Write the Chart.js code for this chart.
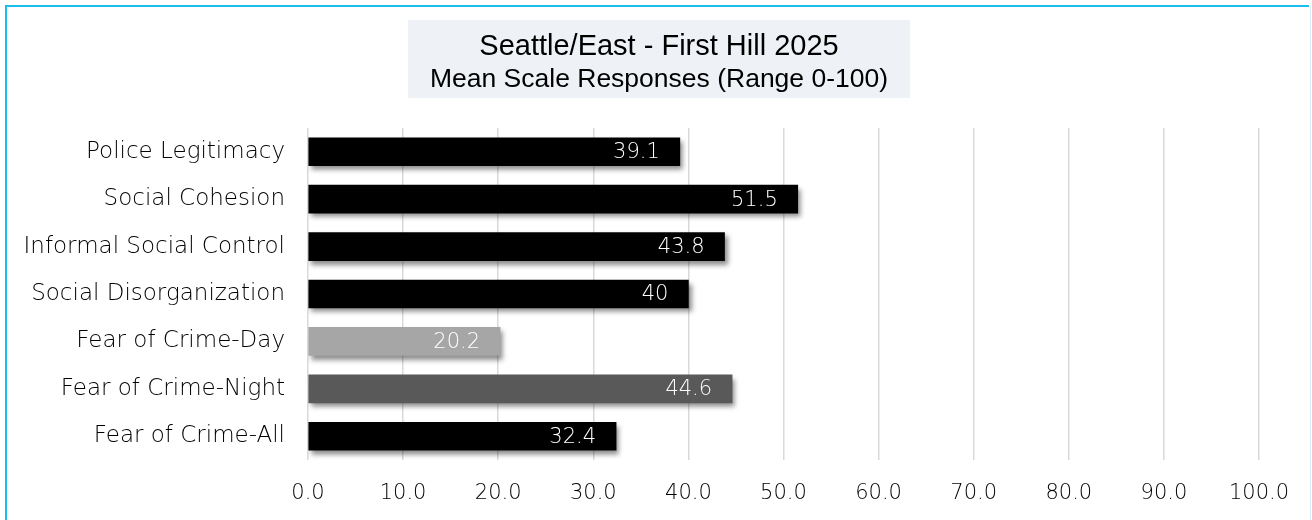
<!DOCTYPE html>
<html>
<head>
<meta charset="utf-8">
<script src="https://cdn.jsdelivr.net/npm/chart.js@4/dist/chart.umd.min.js"></script>
<style>
  html, body { margin: 0; padding: 0; background: #fff; }
  #wrap { width: 1312px; height: 520px; position: relative; }
</style>
</head>
<body>
<div id="wrap"><canvas id="chart" width="1312" height="520"></canvas></div>
<script>
const titleText = 'Seattle/East - First Hill 2025';
const subtitleText = 'Mean Scale Responses (Range 0-100)';
const categories = ['Police Legitimacy', 'Social Cohesion', 'Informal Social Control', 'Social Disorganization', 'Fear of Crime-Day', 'Fear of Crime-Night', 'Fear of Crime-All'];
const values = [39.1, 51.5, 43.8, 40, 20.2, 44.6, 32.4];
const barColors = ['#000000', '#000000', '#000000', '#000000', '#a6a6a6', '#595959', '#000000'];
const xTicks = [0, 10, 20, 30, 40, 50, 60, 70, 80, 90, 100];

const labelFont = "'DejaVu Sans', sans-serif";

// frame, title box and title text
const decorPlugin = {
    id: 'decor',
    beforeDraw(chart) {
        const ctx = chart.ctx;
        ctx.save();
        ctx.fillStyle = '#ffffff';
        ctx.fillRect(0, 0, chart.width, chart.height);
        ctx.strokeStyle = '#1bbcef';
        ctx.lineWidth = 2;
        ctx.beginPath();
        ctx.moveTo(6, 520);
        ctx.lineTo(6, 6);
        ctx.lineTo(1309, 6);
        ctx.stroke();
        ctx.strokeStyle = '#d6eef8';
        ctx.lineWidth = 1;
        ctx.beginPath();
        ctx.moveTo(1310.5, 6);
        ctx.lineTo(1310.5, 520);
        ctx.stroke();
        ctx.fillStyle = '#eef2f6';
        ctx.fillRect(408, 20, 502, 78);
        ctx.fillStyle = '#000';
        ctx.textAlign = 'center';
        ctx.textBaseline = 'middle';
        ctx.font = "29px 'Liberation Sans', Arial, sans-serif";
        ctx.fillText(titleText, 659, 47);
        ctx.font = "26.5px 'Liberation Sans', Arial, sans-serif";
        ctx.fillText(subtitleText, 659, 80);
        ctx.restore();
    }
};

// drop shadow under bars and white value labels inside bar ends
const barPlugin = {
    id: 'barShadow',
    beforeDatasetDraw(chart) {
        const ctx = chart.ctx;
        ctx.save();
        ctx.shadowColor = 'rgba(0,0,0,0.45)';
        ctx.shadowBlur = 5;
        ctx.shadowOffsetX = 3;
        ctx.shadowOffsetY = 4;
    },
    afterDatasetDraw(chart) {
        chart.ctx.restore();
    },
    afterDatasetsDraw(chart) {
        const ctx = chart.ctx;
        const meta = chart.getDatasetMeta(0);
        ctx.save();
        ctx.fillStyle = '#ffffff';
        ctx.font = '200 21px ' + labelFont;
        ctx.textAlign = 'right';
        ctx.textBaseline = 'middle';
        meta.data.forEach((bar, i) => {
            ctx.fillText(String(values[i]), bar.x - 20, bar.y + 1);
        });
        ctx.restore();
    }
};

const ctx = document.getElementById('chart').getContext('2d');
new Chart(ctx, {
    type: 'bar',
    data: {
        labels: categories,
        datasets: [{
            data: values,
            backgroundColor: barColors,
            borderWidth: 0,
            barThickness: 28,
        }]
    },
    options: {
        responsive: false,
        animation: false,
        indexAxis: 'y',
        layout: { padding: { top: 128, right: 53, left: 0, bottom: 0 } },
        plugins: {
            legend: { display: false },
            tooltip: { enabled: false },
        },
        scales: {
            x: {
                min: 0,
                max: 100,
                afterBuildTicks: (scale) => { scale.ticks = xTicks.map(v => ({ value: v })); },
                afterFit: (scale) => { scale.height = 60; },
                ticks: {
                    padding: 21,
                    color: '#000',
                    font: { family: labelFont, size: 21, weight: 200 },
                    callback: (v) => Number(v).toFixed(1),
                },
                grid: { color: '#d9d9d9', lineWidth: 1.5, drawTicks: false },
                border: { display: false },
            },
            y: {
                afterFit: (scale) => { scale.width = 308; },
                ticks: {
                    padding: 15,
                    color: '#000',
                    font: { family: labelFont, size: 23, weight: 200 },
                },
                grid: { display: false },
                border: { display: false },
            },
        },
    },
    plugins: [decorPlugin, barPlugin],
});
</script>
</body>
</html>
